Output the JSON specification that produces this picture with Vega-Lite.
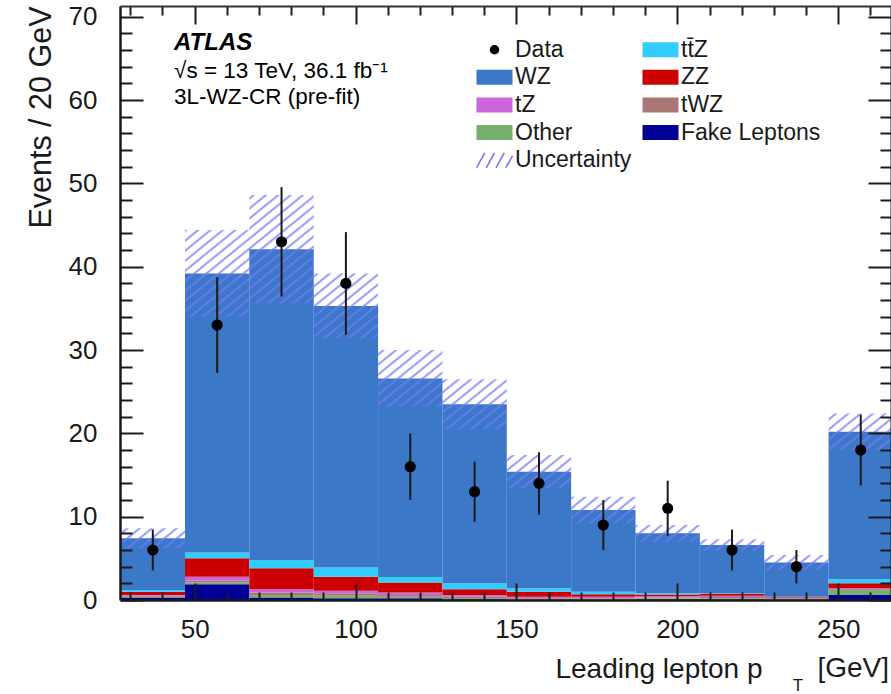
{
"$schema": "https://vega.github.io/schema/vega-lite/v6.json",
"width": 771, "height": 594,
"autosize": {"type": "none"},
"padding": {"left": 120, "top": 6, "right": 0, "bottom": 94},
"background": "white",
"config": {"view": {"stroke": null}, "font": "Liberation Sans"},
"resolve": {"axis": {"x": "independent", "y": "independent"}},
"datasets": {
"pts": [
{"c":37,"n":6,"lo":3.55,"hi":8.45},
{"c":57,"n":33,"lo":27.26,"hi":38.74},
{"c":77,"n":43,"lo":36.44,"hi":49.56},
{"c":97,"n":38,"lo":31.84,"hi":44.16},
{"c":117,"n":16,"lo":12,"hi":20},
{"c":137,"n":13,"lo":9.39,"hi":16.61},
{"c":157,"n":14,"lo":10.26,"hi":17.74},
{"c":177,"n":9,"lo":6,"hi":12},
{"c":197,"n":11,"lo":7.68,"hi":14.32},
{"c":217,"n":6,"lo":3.55,"hi":8.45},
{"c":237,"n":4,"lo":2,"hi":6},
{"c":257,"n":18,"lo":13.76,"hi":22.24}
]
},
"layer": [
{
"data": {"values": [
{"lo":27,"hi":47,"p":"Fake Leptons","ord":1,"n":0.3},{"lo":27,"hi":47,"p":"Other","ord":2,"n":0.1},{"lo":27,"hi":47,"p":"tWZ","ord":3,"n":0.1},{"lo":27,"hi":47,"p":"tZ","ord":4,"n":0.1},{"lo":27,"hi":47,"p":"ZZ","ord":5,"n":0.4},{"lo":27,"hi":47,"p":"tt̄Z","ord":6,"n":0.2},{"lo":27,"hi":47,"p":"WZ","ord":7,"n":6.2},
{"lo":47,"hi":67,"p":"Fake Leptons","ord":1,"n":1.9},{"lo":47,"hi":67,"p":"Other","ord":2,"n":0.2},{"lo":47,"hi":67,"p":"tWZ","ord":3,"n":0.2},{"lo":47,"hi":67,"p":"tZ","ord":4,"n":0.5},{"lo":47,"hi":67,"p":"ZZ","ord":5,"n":2.2},{"lo":47,"hi":67,"p":"tt̄Z","ord":6,"n":0.7},{"lo":47,"hi":67,"p":"WZ","ord":7,"n":33.5},
{"lo":67,"hi":87,"p":"Fake Leptons","ord":1,"n":0.3},{"lo":67,"hi":87,"p":"Other","ord":2,"n":0.3},{"lo":67,"hi":87,"p":"tWZ","ord":3,"n":0.3},{"lo":67,"hi":87,"p":"tZ","ord":4,"n":0.4},{"lo":67,"hi":87,"p":"ZZ","ord":5,"n":2.5},{"lo":67,"hi":87,"p":"tt̄Z","ord":6,"n":1.0},{"lo":67,"hi":87,"p":"WZ","ord":7,"n":37.3},
{"lo":87,"hi":107,"p":"Fake Leptons","ord":1,"n":0.2},{"lo":87,"hi":107,"p":"Other","ord":2,"n":0.3},{"lo":87,"hi":107,"p":"tWZ","ord":3,"n":0.3},{"lo":87,"hi":107,"p":"tZ","ord":4,"n":0.3},{"lo":87,"hi":107,"p":"ZZ","ord":5,"n":1.7},{"lo":87,"hi":107,"p":"tt̄Z","ord":6,"n":1.1},{"lo":87,"hi":107,"p":"WZ","ord":7,"n":31.4},
{"lo":107,"hi":127,"p":"Fake Leptons","ord":1,"n":0.2},{"lo":107,"hi":127,"p":"Other","ord":2,"n":0.2},{"lo":107,"hi":127,"p":"tWZ","ord":3,"n":0.2},{"lo":107,"hi":127,"p":"tZ","ord":4,"n":0.3},{"lo":107,"hi":127,"p":"ZZ","ord":5,"n":1.2},{"lo":107,"hi":127,"p":"tt̄Z","ord":6,"n":0.65},{"lo":107,"hi":127,"p":"WZ","ord":7,"n":23.85},
{"lo":127,"hi":147,"p":"Fake Leptons","ord":1,"n":0.1},{"lo":127,"hi":147,"p":"Other","ord":2,"n":0.15},{"lo":127,"hi":147,"p":"tWZ","ord":3,"n":0.15},{"lo":127,"hi":147,"p":"tZ","ord":4,"n":0.2},{"lo":127,"hi":147,"p":"ZZ","ord":5,"n":0.7},{"lo":127,"hi":147,"p":"tt̄Z","ord":6,"n":0.7},{"lo":127,"hi":147,"p":"WZ","ord":7,"n":21.5},
{"lo":147,"hi":167,"p":"Fake Leptons","ord":1,"n":0.05},{"lo":147,"hi":167,"p":"Other","ord":2,"n":0.1},{"lo":147,"hi":167,"p":"tWZ","ord":3,"n":0.1},{"lo":147,"hi":167,"p":"tZ","ord":4,"n":0.15},{"lo":147,"hi":167,"p":"ZZ","ord":5,"n":0.6},{"lo":147,"hi":167,"p":"tt̄Z","ord":6,"n":0.4},{"lo":147,"hi":167,"p":"WZ","ord":7,"n":14.0},
{"lo":167,"hi":187,"p":"Fake Leptons","ord":1,"n":0.05},{"lo":167,"hi":187,"p":"Other","ord":2,"n":0.1},{"lo":167,"hi":187,"p":"tWZ","ord":3,"n":0.1},{"lo":167,"hi":187,"p":"tZ","ord":4,"n":0.15},{"lo":167,"hi":187,"p":"ZZ","ord":5,"n":0.3},{"lo":167,"hi":187,"p":"tt̄Z","ord":6,"n":0.3},{"lo":167,"hi":187,"p":"WZ","ord":7,"n":9.8},
{"lo":187,"hi":207,"p":"Fake Leptons","ord":1,"n":0.1},{"lo":187,"hi":207,"p":"Other","ord":2,"n":0.1},{"lo":187,"hi":207,"p":"tWZ","ord":3,"n":0.1},{"lo":187,"hi":207,"p":"tZ","ord":4,"n":0.15},{"lo":187,"hi":207,"p":"ZZ","ord":5,"n":0.2},{"lo":187,"hi":207,"p":"tt̄Z","ord":6,"n":0.15},{"lo":187,"hi":207,"p":"WZ","ord":7,"n":7.2},
{"lo":207,"hi":227,"p":"Fake Leptons","ord":1,"n":0.1},{"lo":207,"hi":227,"p":"Other","ord":2,"n":0.1},{"lo":207,"hi":227,"p":"tWZ","ord":3,"n":0.15},{"lo":207,"hi":227,"p":"tZ","ord":4,"n":0.15},{"lo":207,"hi":227,"p":"ZZ","ord":5,"n":0.25},{"lo":207,"hi":227,"p":"tt̄Z","ord":6,"n":0.05},{"lo":207,"hi":227,"p":"WZ","ord":7,"n":5.8},
{"lo":227,"hi":247,"p":"Fake Leptons","ord":1,"n":0.05},{"lo":227,"hi":247,"p":"Other","ord":2,"n":0.1},{"lo":227,"hi":247,"p":"tWZ","ord":3,"n":0.1},{"lo":227,"hi":247,"p":"tZ","ord":4,"n":0.05},{"lo":227,"hi":247,"p":"ZZ","ord":5,"n":0.05},{"lo":227,"hi":247,"p":"tt̄Z","ord":6,"n":0.05},{"lo":227,"hi":247,"p":"WZ","ord":7,"n":4.1},
{"lo":247,"hi":267,"p":"Fake Leptons","ord":1,"n":0.6},{"lo":247,"hi":267,"p":"Other","ord":2,"n":0.6},{"lo":247,"hi":267,"p":"tWZ","ord":3,"n":0.1},{"lo":247,"hi":267,"p":"tZ","ord":4,"n":0.1},{"lo":247,"hi":267,"p":"ZZ","ord":5,"n":0.6},{"lo":247,"hi":267,"p":"tt̄Z","ord":6,"n":0.5},{"lo":247,"hi":267,"p":"WZ","ord":7,"n":17.7}
]},
"transform": [{"stack": "n", "groupby": ["lo"], "sort": [{"field": "ord", "order": "ascending"}], "as": ["s0", "s1"]}],
"mark": {"type": "rect", "clip": true},
"encoding": {
"x": {"field": "lo", "type": "quantitative", "scale": {"domain": [26.8, 266.4], "nice": false, "zero": false},
 "axis": {"orient": "bottom", "values": [30,40,50,60,70,80,90,100,110,120,130,140,150,160,170,180,190,200,210,220,230,240,250,260],
  "labelExpr": "datum.value % 50 === 0 ? datum.label : ''",
  "tickSize": {"condition": {"test": "datum.value % 50 === 0", "value": -17}, "value": -8},
  "tickWidth": 2, "tickColor": "#1a1a1a", "domainColor": "#1a1a1a", "domainWidth": 2.5,
  "labelFontSize": 26, "labelColor": "#1a1a1a", "labelPadding": 33, "labelFlush": false, "labelOverlap": false, "labelBound": false,
  "grid": false, "zindex": 1,
  "title": "Leading lepton p", "titleFontSize": 28, "titleFontWeight": "normal", "titleColor": "#1a1a1a",
  "titleAnchor": "end", "titleAlign": "right", "titleBaseline": "alphabetic", "titleX": 642, "titleY": 77}},
"x2": {"field": "hi"},
"y": {"field": "s0", "type": "quantitative", "scale": {"domain": [0, 71.3], "nice": false, "zero": false},
 "axis": {"orient": "left", "values": [0,2,4,6,8,10,12,14,16,18,20,22,24,26,28,30,32,34,36,38,40,42,44,46,48,50,52,54,56,58,60,62,64,66,68,70],
  "labelExpr": "datum.value % 10 === 0 ? datum.label : ''",
  "tickSize": {"condition": {"test": "datum.value % 10 === 0", "value": -23}, "value": -12},
  "tickWidth": 2, "tickColor": "#1a1a1a", "domainColor": "#1a1a1a", "domainWidth": 2.5,
  "labelFontSize": 26, "labelColor": "#1a1a1a", "labelPadding": 46, "labelFlush": false, "labelOverlap": false, "labelBound": false,
  "grid": false, "zindex": 1,
  "title": "Events / 20 GeV", "titleFontSize": 30.5, "titleFontWeight": "normal", "titleColor": "#1a1a1a",
  "titleAnchor": "end", "titleAngle": -90, "titleAlign": "right", "titleBaseline": "alphabetic", "titleX": -70, "titleY": 0}},
"y2": {"field": "s1"},
"color": {"field": "p", "type": "nominal",
 "scale": {"domain": ["Data","WZ","tZ","Other","Uncertainty","tt̄Z","ZZ","tWZ","Fake Leptons"],
           "range": ["#000000","#3b78c8","#cc66dd","#77b06a","transparent","#33ccff","#cc0000","#aa7777","#000099"]},
 "legend": {"title": null, "orient": "none", "legendX": 363, "legendY": 32, "columns": 2, "padding": 0,
  "symbolSize": 225, "labelFontSize": 23, "labelColor": "#1a1a1a", "labelOffset": 9, "rowPadding": 3.7, "columnPadding": 7,
  "symbolStrokeWidth": 0,
  "encode": {"symbols": {"update": {
   "shape": {"signal": "datum.value === 'Data' ? 'circle' : (datum.value === 'Uncertainty' ? 'M-2.4,1L-1.3,-1M-1.1,1L0,-1M0.2,1L1.3,-1M1.5,1L2.4,-0.6' : 'M-2.4,-1H2.4V1H-2.4Z')"},
   "size": {"signal": "datum.value === 'Data' ? 90 : 225"},
   "stroke": {"signal": "datum.value === 'Uncertainty' ? '#7777ff' : 'transparent'"},
   "strokeWidth": {"value": 1.6}
  }}}}}
}
},
{
"data": {"values": [
{"e":27,"lo":6.2,"hi":8.6},{"e":47,"lo":34.0,"hi":44.4},{"e":67,"lo":35.6,"hi":48.6},{"e":87,"lo":31.4,"hi":39.2},
{"e":107,"lo":23.2,"hi":30.0},{"e":127,"lo":20.5,"hi":26.5},{"e":147,"lo":13.4,"hi":17.4},{"e":167,"lo":9.2,"hi":12.4},
{"e":187,"lo":7.0,"hi":9.0},{"e":207,"lo":5.9,"hi":7.3},{"e":227,"lo":3.6,"hi":5.4},{"e":247,"lo":18.0,"hi":22.4},{"e":267,"lo":18.0,"hi":22.4}
]},
"mark": {"type": "area", "interpolate": "step-after", "clip": true, "opacity": 1, "strokeWidth": 0,
 "fill": {"gradient": "linear", "x1": 0, "y1": 0, "x2": 1.1773, "y2": 0.7032, "stops": [
{"offset":0,"color":"#77f0"},{"offset":0.0055,"color":"#77f0"},{"offset":0.00775,"color":"#77fd"},
{"offset":0.01,"color":"#77f0"},{"offset":0.0155,"color":"#77f0"},{"offset":0.01775,"color":"#77fd"},
{"offset":0.02,"color":"#77f0"},{"offset":0.0255,"color":"#77f0"},{"offset":0.02775,"color":"#77fd"},
{"offset":0.03,"color":"#77f0"},{"offset":0.0355,"color":"#77f0"},{"offset":0.03775,"color":"#77fd"},
{"offset":0.04,"color":"#77f0"},{"offset":0.0455,"color":"#77f0"},{"offset":0.04775,"color":"#77fd"},
{"offset":0.05,"color":"#77f0"},{"offset":0.0555,"color":"#77f0"},{"offset":0.05775,"color":"#77fd"},
{"offset":0.06,"color":"#77f0"},{"offset":0.0655,"color":"#77f0"},{"offset":0.06775,"color":"#77fd"},
{"offset":0.07,"color":"#77f0"},{"offset":0.0755,"color":"#77f0"},{"offset":0.07775,"color":"#77fd"},
{"offset":0.08,"color":"#77f0"},{"offset":0.0855,"color":"#77f0"},{"offset":0.08775,"color":"#77fd"},
{"offset":0.09,"color":"#77f0"},{"offset":0.0955,"color":"#77f0"},{"offset":0.09775,"color":"#77fd"},
{"offset":0.10,"color":"#77f0"},{"offset":0.1055,"color":"#77f0"},{"offset":0.10775,"color":"#77fd"},
{"offset":0.11,"color":"#77f0"},{"offset":0.1155,"color":"#77f0"},{"offset":0.11775,"color":"#77fd"},
{"offset":0.12,"color":"#77f0"},{"offset":0.1255,"color":"#77f0"},{"offset":0.12775,"color":"#77fd"},
{"offset":0.13,"color":"#77f0"},{"offset":0.1355,"color":"#77f0"},{"offset":0.13775,"color":"#77fd"},
{"offset":0.14,"color":"#77f0"},{"offset":0.1455,"color":"#77f0"},{"offset":0.14775,"color":"#77fd"},
{"offset":0.15,"color":"#77f0"},{"offset":0.1555,"color":"#77f0"},{"offset":0.15775,"color":"#77fd"},
{"offset":0.16,"color":"#77f0"},{"offset":0.1655,"color":"#77f0"},{"offset":0.16775,"color":"#77fd"},
{"offset":0.17,"color":"#77f0"},{"offset":0.1755,"color":"#77f0"},{"offset":0.17775,"color":"#77fd"},
{"offset":0.18,"color":"#77f0"},{"offset":0.1855,"color":"#77f0"},{"offset":0.18775,"color":"#77fd"},
{"offset":0.19,"color":"#77f0"},{"offset":0.1955,"color":"#77f0"},{"offset":0.19775,"color":"#77fd"},
{"offset":0.20,"color":"#77f0"},{"offset":0.2055,"color":"#77f0"},{"offset":0.20775,"color":"#77fd"},
{"offset":0.21,"color":"#77f0"},{"offset":0.2155,"color":"#77f0"},{"offset":0.21775,"color":"#77fd"},
{"offset":0.22,"color":"#77f0"},{"offset":0.2255,"color":"#77f0"},{"offset":0.22775,"color":"#77fd"},
{"offset":0.23,"color":"#77f0"},{"offset":0.2355,"color":"#77f0"},{"offset":0.23775,"color":"#77fd"},
{"offset":0.24,"color":"#77f0"},{"offset":0.2455,"color":"#77f0"},{"offset":0.24775,"color":"#77fd"},
{"offset":0.25,"color":"#77f0"},{"offset":0.2555,"color":"#77f0"},{"offset":0.25775,"color":"#77fd"},
{"offset":0.26,"color":"#77f0"},{"offset":0.2655,"color":"#77f0"},{"offset":0.26775,"color":"#77fd"},
{"offset":0.27,"color":"#77f0"},{"offset":0.2755,"color":"#77f0"},{"offset":0.27775,"color":"#77fd"},
{"offset":0.28,"color":"#77f0"},{"offset":0.2855,"color":"#77f0"},{"offset":0.28775,"color":"#77fd"},
{"offset":0.29,"color":"#77f0"},{"offset":0.2955,"color":"#77f0"},{"offset":0.29775,"color":"#77fd"},
{"offset":0.30,"color":"#77f0"},{"offset":0.3055,"color":"#77f0"},{"offset":0.30775,"color":"#77fd"},
{"offset":0.31,"color":"#77f0"},{"offset":0.3155,"color":"#77f0"},{"offset":0.31775,"color":"#77fd"},
{"offset":0.32,"color":"#77f0"},{"offset":0.3255,"color":"#77f0"},{"offset":0.32775,"color":"#77fd"},
{"offset":0.33,"color":"#77f0"},{"offset":0.3355,"color":"#77f0"},{"offset":0.33775,"color":"#77fd"},
{"offset":0.34,"color":"#77f0"},{"offset":0.3455,"color":"#77f0"},{"offset":0.34775,"color":"#77fd"},
{"offset":0.35,"color":"#77f0"},{"offset":0.3555,"color":"#77f0"},{"offset":0.35775,"color":"#77fd"},
{"offset":0.36,"color":"#77f0"},{"offset":0.3655,"color":"#77f0"},{"offset":0.36775,"color":"#77fd"},
{"offset":0.37,"color":"#77f0"},{"offset":0.3755,"color":"#77f0"},{"offset":0.37775,"color":"#77fd"},
{"offset":0.38,"color":"#77f0"},{"offset":0.3855,"color":"#77f0"},{"offset":0.38775,"color":"#77fd"},
{"offset":0.39,"color":"#77f0"},{"offset":0.3955,"color":"#77f0"},{"offset":0.39775,"color":"#77fd"},
{"offset":0.40,"color":"#77f0"},{"offset":0.4055,"color":"#77f0"},{"offset":0.40775,"color":"#77fd"},
{"offset":0.41,"color":"#77f0"},{"offset":0.4155,"color":"#77f0"},{"offset":0.41775,"color":"#77fd"},
{"offset":0.42,"color":"#77f0"},{"offset":0.4255,"color":"#77f0"},{"offset":0.42775,"color":"#77fd"},
{"offset":0.43,"color":"#77f0"},{"offset":0.4355,"color":"#77f0"},{"offset":0.43775,"color":"#77fd"},
{"offset":0.44,"color":"#77f0"},{"offset":0.4455,"color":"#77f0"},{"offset":0.44775,"color":"#77fd"},
{"offset":0.45,"color":"#77f0"},{"offset":0.4555,"color":"#77f0"},{"offset":0.45775,"color":"#77fd"},
{"offset":0.46,"color":"#77f0"},{"offset":0.4655,"color":"#77f0"},{"offset":0.46775,"color":"#77fd"},
{"offset":0.47,"color":"#77f0"},{"offset":0.4755,"color":"#77f0"},{"offset":0.47775,"color":"#77fd"},
{"offset":0.48,"color":"#77f0"},{"offset":0.4855,"color":"#77f0"},{"offset":0.48775,"color":"#77fd"},
{"offset":0.49,"color":"#77f0"},{"offset":0.4955,"color":"#77f0"},{"offset":0.49775,"color":"#77fd"},
{"offset":0.50,"color":"#77f0"},{"offset":0.5055,"color":"#77f0"},{"offset":0.50775,"color":"#77fd"},
{"offset":0.51,"color":"#77f0"},{"offset":0.5155,"color":"#77f0"},{"offset":0.51775,"color":"#77fd"},
{"offset":0.52,"color":"#77f0"},{"offset":0.5255,"color":"#77f0"},{"offset":0.52775,"color":"#77fd"},
{"offset":0.53,"color":"#77f0"},{"offset":0.5355,"color":"#77f0"},{"offset":0.53775,"color":"#77fd"},
{"offset":0.54,"color":"#77f0"},{"offset":0.5455,"color":"#77f0"},{"offset":0.54775,"color":"#77fd"},
{"offset":0.55,"color":"#77f0"},{"offset":0.5555,"color":"#77f0"},{"offset":0.55775,"color":"#77fd"},
{"offset":0.56,"color":"#77f0"},{"offset":0.5655,"color":"#77f0"},{"offset":0.56775,"color":"#77fd"},
{"offset":0.57,"color":"#77f0"},{"offset":0.5755,"color":"#77f0"},{"offset":0.57775,"color":"#77fd"},
{"offset":0.58,"color":"#77f0"},{"offset":0.5855,"color":"#77f0"},{"offset":0.58775,"color":"#77fd"},
{"offset":0.59,"color":"#77f0"},{"offset":0.5955,"color":"#77f0"},{"offset":0.59775,"color":"#77fd"},
{"offset":0.60,"color":"#77f0"},{"offset":0.6055,"color":"#77f0"},{"offset":0.60775,"color":"#77fd"},
{"offset":0.61,"color":"#77f0"},{"offset":0.6155,"color":"#77f0"},{"offset":0.61775,"color":"#77fd"},
{"offset":0.62,"color":"#77f0"},{"offset":0.6255,"color":"#77f0"},{"offset":0.62775,"color":"#77fd"},
{"offset":0.63,"color":"#77f0"},{"offset":0.6355,"color":"#77f0"},{"offset":0.63775,"color":"#77fd"},
{"offset":0.64,"color":"#77f0"},{"offset":0.6455,"color":"#77f0"},{"offset":0.64775,"color":"#77fd"},
{"offset":0.65,"color":"#77f0"},{"offset":0.6555,"color":"#77f0"},{"offset":0.65775,"color":"#77fd"},
{"offset":0.66,"color":"#77f0"},{"offset":0.6655,"color":"#77f0"},{"offset":0.66775,"color":"#77fd"},
{"offset":0.67,"color":"#77f0"},{"offset":0.6755,"color":"#77f0"},{"offset":0.67775,"color":"#77fd"},
{"offset":0.68,"color":"#77f0"},{"offset":0.6855,"color":"#77f0"},{"offset":0.68775,"color":"#77fd"},
{"offset":0.69,"color":"#77f0"},{"offset":0.6955,"color":"#77f0"},{"offset":0.69775,"color":"#77fd"},
{"offset":0.70,"color":"#77f0"},{"offset":0.7055,"color":"#77f0"},{"offset":0.70775,"color":"#77fd"},
{"offset":0.71,"color":"#77f0"},{"offset":0.7155,"color":"#77f0"},{"offset":0.71775,"color":"#77fd"},
{"offset":0.72,"color":"#77f0"},{"offset":0.7255,"color":"#77f0"},{"offset":0.72775,"color":"#77fd"},
{"offset":0.73,"color":"#77f0"},{"offset":0.7355,"color":"#77f0"},{"offset":0.73775,"color":"#77fd"},
{"offset":0.74,"color":"#77f0"},{"offset":0.7455,"color":"#77f0"},{"offset":0.74775,"color":"#77fd"},
{"offset":0.75,"color":"#77f0"},{"offset":0.7555,"color":"#77f0"},{"offset":0.75775,"color":"#77fd"},
{"offset":0.76,"color":"#77f0"},{"offset":0.7655,"color":"#77f0"},{"offset":0.76775,"color":"#77fd"},
{"offset":0.77,"color":"#77f0"},{"offset":0.7755,"color":"#77f0"},{"offset":0.77775,"color":"#77fd"},
{"offset":0.78,"color":"#77f0"},{"offset":0.7855,"color":"#77f0"},{"offset":0.78775,"color":"#77fd"},
{"offset":0.79,"color":"#77f0"},{"offset":0.7955,"color":"#77f0"},{"offset":0.79775,"color":"#77fd"},
{"offset":0.80,"color":"#77f0"},{"offset":0.8055,"color":"#77f0"},{"offset":0.80775,"color":"#77fd"},
{"offset":0.81,"color":"#77f0"},{"offset":0.8155,"color":"#77f0"},{"offset":0.81775,"color":"#77fd"},
{"offset":0.82,"color":"#77f0"},{"offset":0.8255,"color":"#77f0"},{"offset":0.82775,"color":"#77fd"},
{"offset":0.83,"color":"#77f0"},{"offset":0.8355,"color":"#77f0"},{"offset":0.83775,"color":"#77fd"},
{"offset":0.84,"color":"#77f0"},{"offset":0.8455,"color":"#77f0"},{"offset":0.84775,"color":"#77fd"},
{"offset":0.85,"color":"#77f0"},{"offset":0.8555,"color":"#77f0"},{"offset":0.85775,"color":"#77fd"},
{"offset":0.86,"color":"#77f0"},{"offset":0.8655,"color":"#77f0"},{"offset":0.86775,"color":"#77fd"},
{"offset":0.87,"color":"#77f0"},{"offset":0.8755,"color":"#77f0"},{"offset":0.87775,"color":"#77fd"},
{"offset":0.88,"color":"#77f0"},{"offset":0.8855,"color":"#77f0"},{"offset":0.88775,"color":"#77fd"},
{"offset":0.89,"color":"#77f0"},{"offset":0.8955,"color":"#77f0"},{"offset":0.89775,"color":"#77fd"},
{"offset":0.90,"color":"#77f0"},{"offset":0.9055,"color":"#77f0"},{"offset":0.90775,"color":"#77fd"},
{"offset":0.91,"color":"#77f0"},{"offset":0.9155,"color":"#77f0"},{"offset":0.91775,"color":"#77fd"},
{"offset":0.92,"color":"#77f0"},{"offset":0.9255,"color":"#77f0"},{"offset":0.92775,"color":"#77fd"},
{"offset":0.93,"color":"#77f0"},{"offset":0.9355,"color":"#77f0"},{"offset":0.93775,"color":"#77fd"},
{"offset":0.94,"color":"#77f0"},{"offset":0.9455,"color":"#77f0"},{"offset":0.94775,"color":"#77fd"},
{"offset":0.95,"color":"#77f0"},{"offset":0.9555,"color":"#77f0"},{"offset":0.95775,"color":"#77fd"},
{"offset":0.96,"color":"#77f0"},{"offset":0.9655,"color":"#77f0"},{"offset":0.96775,"color":"#77fd"},
{"offset":0.97,"color":"#77f0"},{"offset":0.9755,"color":"#77f0"},{"offset":0.97775,"color":"#77fd"},
{"offset":0.98,"color":"#77f0"},{"offset":0.9855,"color":"#77f0"},{"offset":0.98775,"color":"#77fd"},
{"offset":0.99,"color":"#77f0"},{"offset":0.9955,"color":"#77f0"},{"offset":0.99775,"color":"#77fd"},
{"offset":1,"color":"#77f0"}
 ]}},
"encoding": {
"x": {"field": "e", "type": "quantitative", "scale": {"domain": [26.8, 266.4], "nice": false, "zero": false},
 "axis": {"orient": "top", "values": [30,40,50,60,70,80,90,100,110,120,130,140,150,160,170,180,190,200,210,220,230,240,250,260],
  "labels": false, "tickSize": {"condition": {"test": "datum.value % 50 === 0", "value": -18}, "value": -9},
  "tickWidth": 2, "tickColor": "#1a1a1a", "domainColor": "#333333", "domainWidth": 2, "grid": false, "title": null, "zindex": 1}},
"y": {"field": "lo", "type": "quantitative", "scale": {"domain": [0, 71.3], "nice": false, "zero": false},
 "axis": {"orient": "right", "values": [0,2,4,6,8,10,12,14,16,18,20,22,24,26,28,30,32,34,36,38,40,42,44,46,48,50,52,54,56,58,60,62,64,66,68,70],
  "labels": false, "tickSize": {"condition": {"test": "datum.value % 10 === 0", "value": -23}, "value": -11},
  "tickWidth": 2, "tickColor": "#1a1a1a", "domainColor": "#1a1a1a", "domainWidth": 2, "grid": false, "title": null, "zindex": 1}},
"y2": {"field": "hi"}
}
},
{
"data": {"name": "pts"},
"mark": {"type": "rule", "color": "#1a1a1a", "strokeWidth": 2},
"encoding": {
"x": {"field": "c", "type": "quantitative", "scale": {"domain": [26.8, 266.4], "nice": false, "zero": false}, "axis": null},
"y": {"field": "lo", "type": "quantitative", "scale": {"domain": [0, 71.3], "nice": false, "zero": false}, "axis": null},
"y2": {"field": "hi"}
}
},
{
"data": {"name": "pts"},
"mark": {"type": "circle", "size": 125, "color": "#000000", "opacity": 1},
"encoding": {
"x": {"field": "c", "type": "quantitative", "scale": {"domain": [26.8, 266.4], "nice": false, "zero": false}, "axis": null},
"y": {"field": "n", "type": "quantitative", "scale": {"domain": [0, 71.3], "nice": false, "zero": false}, "axis": null}
}
},
{
"data": {"values": [{"x": 43.6, "y": 66.0, "t": "ATLAS"}]},
"mark": {"type": "text", "align": "left", "baseline": "alphabetic", "fontSize": 24, "fontWeight": "bold", "fontStyle": "italic", "color": "#000000"},
"encoding": {
"x": {"field": "x", "type": "quantitative", "scale": {"domain": [26.8, 266.4], "nice": false, "zero": false}, "axis": null},
"y": {"field": "y", "type": "quantitative", "scale": {"domain": [0, 71.3], "nice": false, "zero": false}, "axis": null},
"text": {"field": "t"}
}
},
{
"data": {"values": [{"x": 43.6, "y": 62.7, "t": "√s = 13 TeV, 36.1 fb⁻¹"}, {"x": 43.6, "y": 59.5, "t": "3L-WZ-CR (pre-fit)"}]},
"mark": {"type": "text", "align": "left", "baseline": "alphabetic", "fontSize": 22.5, "color": "#000000"},
"encoding": {
"x": {"field": "x", "type": "quantitative", "scale": {"domain": [26.8, 266.4], "nice": false, "zero": false}, "axis": null},
"y": {"field": "y", "type": "quantitative", "scale": {"domain": [0, 71.3], "nice": false, "zero": false}, "axis": null},
"text": {"field": "t"}
}
},
{
"data": {"values": [{"x": 235.9, "y": -10.9, "t": "T"}]},
"mark": {"type": "text", "align": "left", "baseline": "alphabetic", "fontSize": 17, "color": "#1a1a1a"},
"encoding": {
"x": {"field": "x", "type": "quantitative", "scale": {"domain": [26.8, 266.4], "nice": false, "zero": false}, "axis": null},
"y": {"field": "y", "type": "quantitative", "scale": {"domain": [0, 71.3], "nice": false, "zero": false}, "axis": null},
"text": {"field": "t"}
}
},
{
"data": {"values": [{"x": 265.8, "y": -9.24, "t": "[GeV]"}]},
"mark": {"type": "text", "align": "right", "baseline": "alphabetic", "fontSize": 28, "color": "#1a1a1a"},
"encoding": {
"x": {"field": "x", "type": "quantitative", "scale": {"domain": [26.8, 266.4], "nice": false, "zero": false}, "axis": null},
"y": {"field": "y", "type": "quantitative", "scale": {"domain": [0, 71.3], "nice": false, "zero": false}, "axis": null},
"text": {"field": "t"}
}
}
]
}
